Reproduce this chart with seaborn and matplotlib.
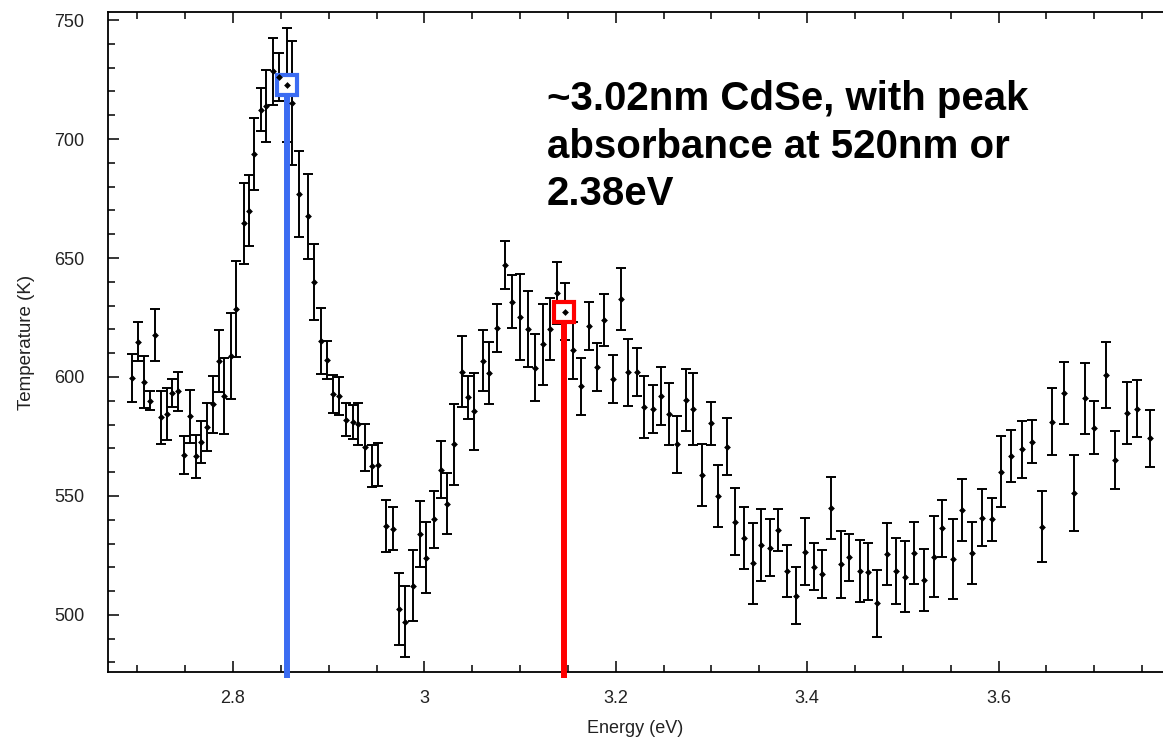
import numpy as np
import pandas as pd
import matplotlib
matplotlib.use('Agg')
import matplotlib.pyplot as plt
import seaborn as sns
from matplotlib.ticker import MultipleLocator, FuncFormatter

# photon energy (eV)
energy = [
    2.695, 2.701, 2.707, 2.713, 2.719, 2.725, 2.731, 2.736, 2.743, 2.749,
    2.755, 2.761, 2.767, 2.773, 2.779, 2.785, 2.791, 2.798, 2.803, 2.811,
    2.817, 2.822, 2.829, 2.835, 2.842, 2.848, 2.856, 2.862, 2.869, 2.878,
    2.885, 2.892, 2.898, 2.905, 2.911, 2.918, 2.925, 2.931, 2.938, 2.945,
    2.952, 2.960, 2.967, 2.973, 2.980, 2.988, 2.995, 3.002, 3.010, 3.017,
    3.024, 3.031, 3.039, 3.046, 3.052, 3.061, 3.068, 3.076, 3.084, 3.092,
    3.100, 3.108, 3.116, 3.124, 3.131, 3.139, 3.147, 3.155, 3.164, 3.172,
    3.180, 3.188, 3.197, 3.205, 3.213, 3.222, 3.230, 3.239, 3.247, 3.256,
    3.264, 3.273, 3.281, 3.290, 3.299, 3.307, 3.316, 3.325, 3.334, 3.343,
    3.352, 3.361, 3.369, 3.379, 3.388, 3.398, 3.407, 3.416, 3.425, 3.435,
    3.444, 3.455, 3.464, 3.473, 3.483, 3.493, 3.502, 3.512, 3.522, 3.532,
    3.541, 3.552, 3.562, 3.572, 3.583, 3.593, 3.603, 3.613, 3.624, 3.635,
    3.645, 3.656, 3.668, 3.679, 3.690, 3.700, 3.712, 3.722, 3.734, 3.745,
    3.758,
]

# temperature (K)
temperature = [
    599.5, 614.9, 598.0, 590.1, 617.7, 583.0, 584.5, 593.3, 593.9, 567.1,
    583.4, 566.7, 572.7, 578.9, 588.6, 606.8, 592.0, 608.9, 628.6, 664.6,
    669.9, 693.7, 712.4, 713.9, 728.4, 726.0, 722.8, 715.3, 676.8, 667.5,
    640.0, 615.1, 607.0, 592.8, 592.1, 582.1, 581.1, 580.2, 570.4, 562.6,
    563.2, 537.4, 536.2, 502.5, 497.2, 512.3, 534.0, 524.0, 540.2, 561.1,
    546.8, 571.7, 602.3, 591.5, 585.5, 606.9, 601.5, 620.7, 647.1, 631.7,
    625.1, 620.0, 603.9, 613.7, 620.0, 635.2, 627.4, 611.3, 596.0, 621.4,
    604.3, 623.9, 599.2, 632.6, 602.0, 602.0, 587.3, 586.6, 592.0, 584.3,
    571.8, 590.3, 586.6, 558.8, 580.5, 550.1, 570.7, 539.2, 532.5, 521.7,
    529.4, 528.3, 535.7, 518.5, 508.0, 526.6, 520.3, 517.2, 545.1, 521.3,
    524.2, 518.6, 518.2, 504.9, 525.5, 518.5, 516.1, 525.9, 514.7, 524.5,
    536.4, 523.5, 544.1, 525.9, 540.9, 540.2, 560.2, 566.8, 569.6, 572.8,
    537.1, 581.2, 593.1, 551.1, 591.0, 578.7, 600.8, 565.1, 584.7, 586.6,
    574.2,
]

# half-length of error bars (K)
temp_err = [
    10, 8, 11, 4, 11, 11, 11, 6, 8, 8,
    11, 9, 9, 10, 12, 13, 16, 18, 20, 17,
    15, 15, 9, 15, 14, 10, 24, 26, 18, 18,
    16, 14, 8, 8, 8, 7, 7, 9, 10, 9,
    9, 11, 9, 15, 15, 15, 14, 15, 12, 12,
    13, 17, 15, 9, 16, 13, 13, 10, 10, 11,
    18, 16, 14, 17, 13, 13, 12, 12, 12, 10,
    10, 11, 10, 13, 14, 10, 13, 10, 12, 13,
    12, 13, 15, 13, 9, 13, 12, 14, 13, 17,
    15, 12, 9, 11, 12, 14, 10, 10, 13, 14,
    10, 13, 12, 14, 13, 14, 15, 13, 13, 17,
    12, 17, 13, 13, 12, 9, 15, 11, 12, 9,
    15, 14, 13, 16, 15, 11, 14, 12, 13, 12,
    12,
]

# marked peaks
peak_energy = [2.856, 3.146]
peak_temp = [722.8, 627.4]
peak_colors = ['#3b6cf2', '#ff0000']

note_text = "~3.02nm CdSe, with peak\nabsorbance at 520nm or\n2.38eV"

df = pd.DataFrame({'Energy (eV)': energy, 'Temperature (K)': temperature, 'err': temp_err})

sns.set_theme(style='ticks')
plt.rcParams['font.family'] = ['Liberation Sans', 'DejaVu Sans']

fig = plt.figure(figsize=(11.63, 7.43), dpi=100)
ax = fig.add_axes([108 / 1163, 1 - 672 / 743, 1 - 108 / 1163, 660 / 743])

XMIN, XMAX = 2.6694, 3.7718
YMIN, YMAX = 476.0, 753.4

ax.errorbar(df['Energy (eV)'], df['Temperature (K)'], yerr=df['err'], fmt='none',
            ecolor='black', elinewidth=1.4, capsize=3.4, capthick=1.4, zorder=2)

# peak markers: vertical line from the axis up to the boxed point
for e, t, c in zip(peak_energy, peak_temp, peak_colors):
    ax.plot([e, e], [YMIN - 2.5, t - 4.8], color=c, lw=4.3, solid_capstyle='butt',
            clip_on=False, zorder=3)
    ax.plot([e], [t], marker='s', markersize=14.5, markerfacecolor='white',
            markeredgecolor=c, markeredgewidth=3.0, zorder=4)

sns.scatterplot(data=df, x='Energy (eV)', y='Temperature (K)', ax=ax, color='black',
                marker='D', s=12, linewidth=0, zorder=5)

ax.set_xlim(XMIN, XMAX)
ax.set_ylim(YMIN, YMAX)
ax.xaxis.set_major_locator(MultipleLocator(0.2))
ax.xaxis.set_minor_locator(MultipleLocator(0.05))
ax.yaxis.set_major_locator(MultipleLocator(50))
ax.yaxis.set_minor_locator(MultipleLocator(10))
ax.xaxis.set_major_formatter(FuncFormatter(lambda v, p: f'{v:g}'))

ax.tick_params(which='both', direction='in', top=True, right=False, colors='black',
               labelcolor='#222222', labelsize=13)
ax.tick_params(which='major', length=8, width=1.1)
ax.tick_params(which='minor', length=5, width=1.1)
ax.tick_params(axis='x', which='major', pad=13)
ax.tick_params(axis='y', which='major', pad=17)

for side in ['left', 'bottom', 'top']:
    ax.spines[side].set_color('black')
    ax.spines[side].set_linewidth(1.3)
ax.spines['right'].set_visible(False)

ax.set_xlabel('Energy (eV)', fontsize=13, color='#222222', labelpad=9)
ax.set_ylabel('Temperature (K)', fontsize=13.5, color='#222222', labelpad=14)

fig.text(547 / 1163, 1 - 80 / 743, note_text, fontsize=29, fontweight='bold',
         color='black', va='top', ha='left', linespacing=1.32)

fig.savefig('out.png', dpi=100, facecolor='white')
